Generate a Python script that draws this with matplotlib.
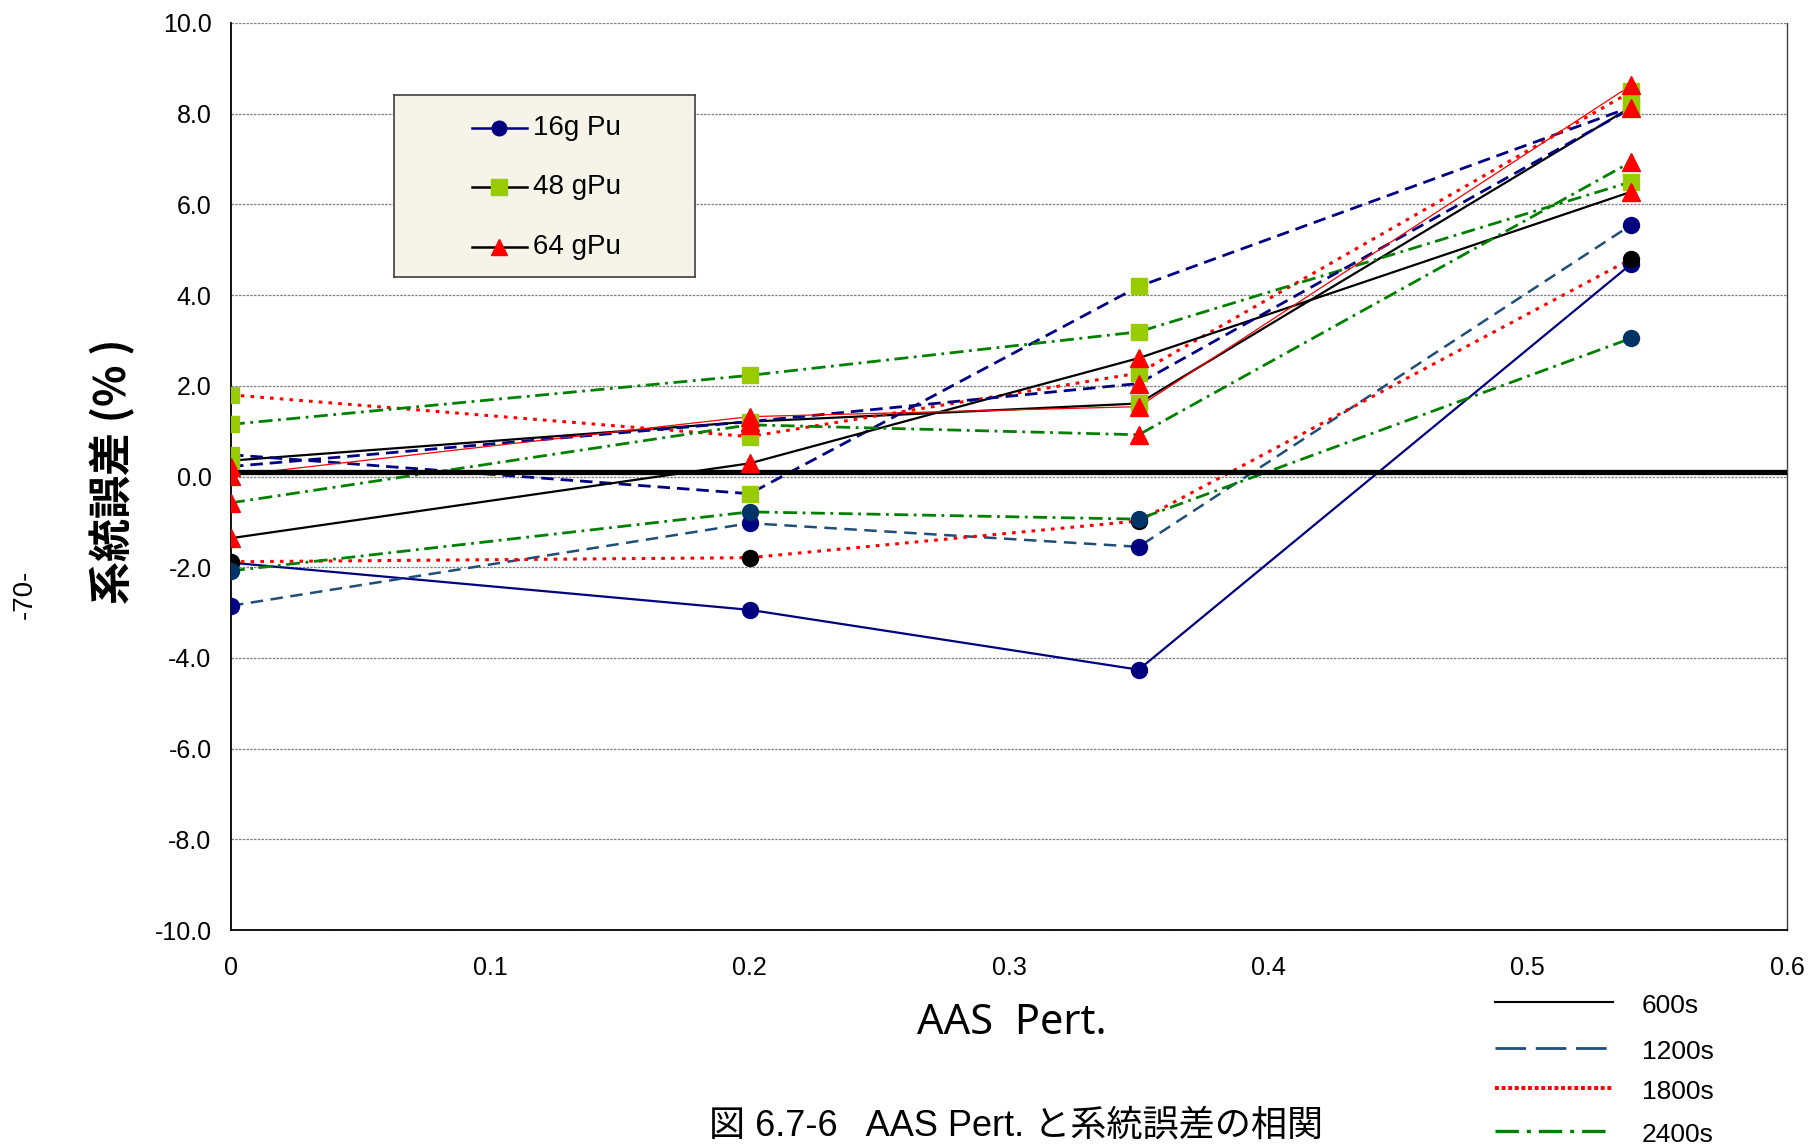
import numpy as np
import matplotlib.pyplot as plt
from matplotlib.lines import Line2D

plt.rcParams['font.family'] = ['Liberation Sans', 'Noto Sans CJK JP']

# AAS Pert.
aas = [0, 0.2, 0.35, 0.54]

# 系統誤差 (%) : 16g Pu
pu16_600 = [-1.90, -2.94, -4.26, 4.69]
pu16_1200 = [-2.85, -1.03, -1.55, 5.55]
pu16_1800 = [-1.88, -1.79, -0.98, 4.80]
pu16_2400 = [-2.08, -0.78, -0.94, 3.05]

# 48 gPu
pu48_600 = [0.35, 1.21, 1.61, 8.15]
pu48_1200 = [0.48, -0.38, 4.19, 8.15]
pu48_1800 = [1.80, 0.88, 2.28, 8.49]
pu48_2400 = [1.15, 2.23, 3.19, 6.50]

# 64 gPu
pu64_600 = [-1.36, 0.29, 2.61, 6.28]
pu64_1200 = [0.22, 1.21, 2.05, 8.12]
pu64_1800 = [0.02, 1.32, 1.54, 8.63]
pu64_2400 = [-0.58, 1.14, 0.92, 6.94]

base_line = 0.1

mass_labels = ['16g Pu', '48 gPu', '64 gPu']
time_labels = ['600s', '1200s', '1800s', '2400s']

NAVY = '#000080'
SLATE = '#003366'
LIME = '#99CC00'
RED = '#FF0000'
GREEN = '#008000'

solid = dict(ls='-', lw=1.6)
dashed = dict(ls=(0, (4.5, 2.5)), lw=2.0)
dotted = dict(ls=(0, (1.2, 2.0)), lw=2.2)
dashdot = dict(ls=(0, (5, 2, 1, 2)), lw=2.0)

# (値, 線色, 線種, マーカー, マーカー色)
series = [
    (pu16_600, NAVY, solid, 'o', NAVY),
    (pu16_1200, '#1F4E79', dict(ls=(0, (5, 3)), lw=1.8), 'o', NAVY),
    (pu16_1800, RED, dotted, 'o', 'black'),
    (pu16_2400, GREEN, dashdot, 'o', SLATE),
    (pu48_600, 'black', solid, 's', LIME),
    (pu48_1200, NAVY, dashed, 's', LIME),
    (pu48_1800, RED, dotted, 's', LIME),
    (pu48_2400, GREEN, dashdot, 's', LIME),
    (pu64_600, 'black', solid, '^', RED),
    (pu64_1200, NAVY, dashed, '^', RED),
    (pu64_1800, RED, dict(ls='-', lw=0.9), '^', RED),
    (pu64_2400, GREEN, dashdot, '^', RED),
]
msize = {'o': 11.5, 's': 12, '^': 12.5}

fig = plt.figure(figsize=(18.1, 11.47), dpi=100)
ax = fig.add_axes([231 / 1810, 1 - 930 / 1147, 1556 / 1810, 907 / 1147])

for vals, lc, style, mk, mc in series:
    ax.plot(aas, vals, color=lc, zorder=3, **style)
ax.axhline(base_line, color='black', lw=3.8, zorder=3.5)
for vals, lc, style, mk, mc in series:
    ax.plot(aas, vals, ls='none', marker=mk, ms=msize[mk], mfc=mc,
            mec=mc, zorder=4)

ax.set_xlim(0, 0.6)
ax.set_ylim(-10, 10)
ax.set_xticks(np.arange(0, 0.61, 0.1))
ax.set_xticklabels(['0', '0.1', '0.2', '0.3', '0.4', '0.5', '0.6'])
yt = np.arange(-10, 10.1, 2)
ax.set_yticks(yt)
ax.set_yticklabels([f'{v:.1f}' for v in yt])
ax.tick_params(axis='both', length=0, labelsize=18)
ax.tick_params(axis='x', pad=19)
ax.tick_params(axis='y', pad=14)
ax.yaxis.grid(True, ls=(0, (2, 1)), color='#7f7f7f', lw=0.9)
ax.set_axisbelow(True)
ax.spines['top'].set_visible(False)
ax.spines['right'].set_color('#404040')
ax.spines['right'].set_linewidth(1.0)
for s in ['left', 'bottom']:
    ax.spines[s].set_color('black')
    ax.spines[s].set_linewidth(1.3)

fig.text(112 / 1810, 1 - 471 / 1147, '系統誤差 (% )', rotation=90,
         ha='center', va='center', fontsize=31, fontweight='bold',
         family=['Noto Sans CJK JP'])
fig.text(25 / 1810, 1 - 594 / 1147, '-70-', rotation=90,
         ha='center', va='center', fontsize=20)
fig.text(1012 / 1810, 1 - 1023 / 1147, 'AAS  Pert.', ha='center',
         va='center', fontsize=30, family=['Noto Sans'])
fig.text(1016 / 1810, 1 - 1126 / 1147, '図 6.7-6   AAS Pert. と系統誤差の相関',
         ha='center', va='center', fontsize=26)

# 試料量の凡例
lg = fig.add_axes([394 / 1810, 1 - 277 / 1147, 301 / 1810, 182 / 1147])
lg.set_facecolor('#F6F3E8')
lg.set_xlim(0, 1)
lg.set_ylim(0, 1)
lg.set_xticks([])
lg.set_yticks([])
for s in lg.spines.values():
    s.set_color('#404040')
    s.set_linewidth(1.2)
rows = [0.819, 0.495, 0.165]
marks = [('o', NAVY, NAVY), ('s', LIME, 'black'), ('^', RED, 'black')]
for y, (mk, mc, lc), lab in zip(rows, marks, mass_labels):
    lg.plot([0.259, 0.442], [y, y], color=lc, lw=1.8)
    lg.plot([0.35], [y], marker=mk, ms=msize[mk] - 1, mfc=mc, mec=mc)
    lg.text(0.462, y, lab, va='center', fontsize=20)

# 測定時間の凡例
time_styles = [
    dict(color='black', ls='-', lw=1.5),
    dict(color='#1F4E79', ls=(0, (11, 3.5)), lw=2.0),
    dict(color=RED, ls=(0, (1, 0.7)), lw=2.8),
    dict(color=GREEN, ls=(0, (7, 2.4, 1.2, 2.4)), lw=2.4),
]
row_px = [1002, 1048, 1088, 1131]
for ypx, st, lab in zip(row_px, time_styles, time_labels):
    yf = 1 - ypx / 1147
    fig.add_artist(Line2D([1495 / 1810, 1613 / 1810], [yf, yf],
                          transform=fig.transFigure, **st))
    fig.text(1642 / 1810, yf - 4 / 1147, lab, va='center', fontsize=19)

fig.savefig('out.png', dpi=100)
